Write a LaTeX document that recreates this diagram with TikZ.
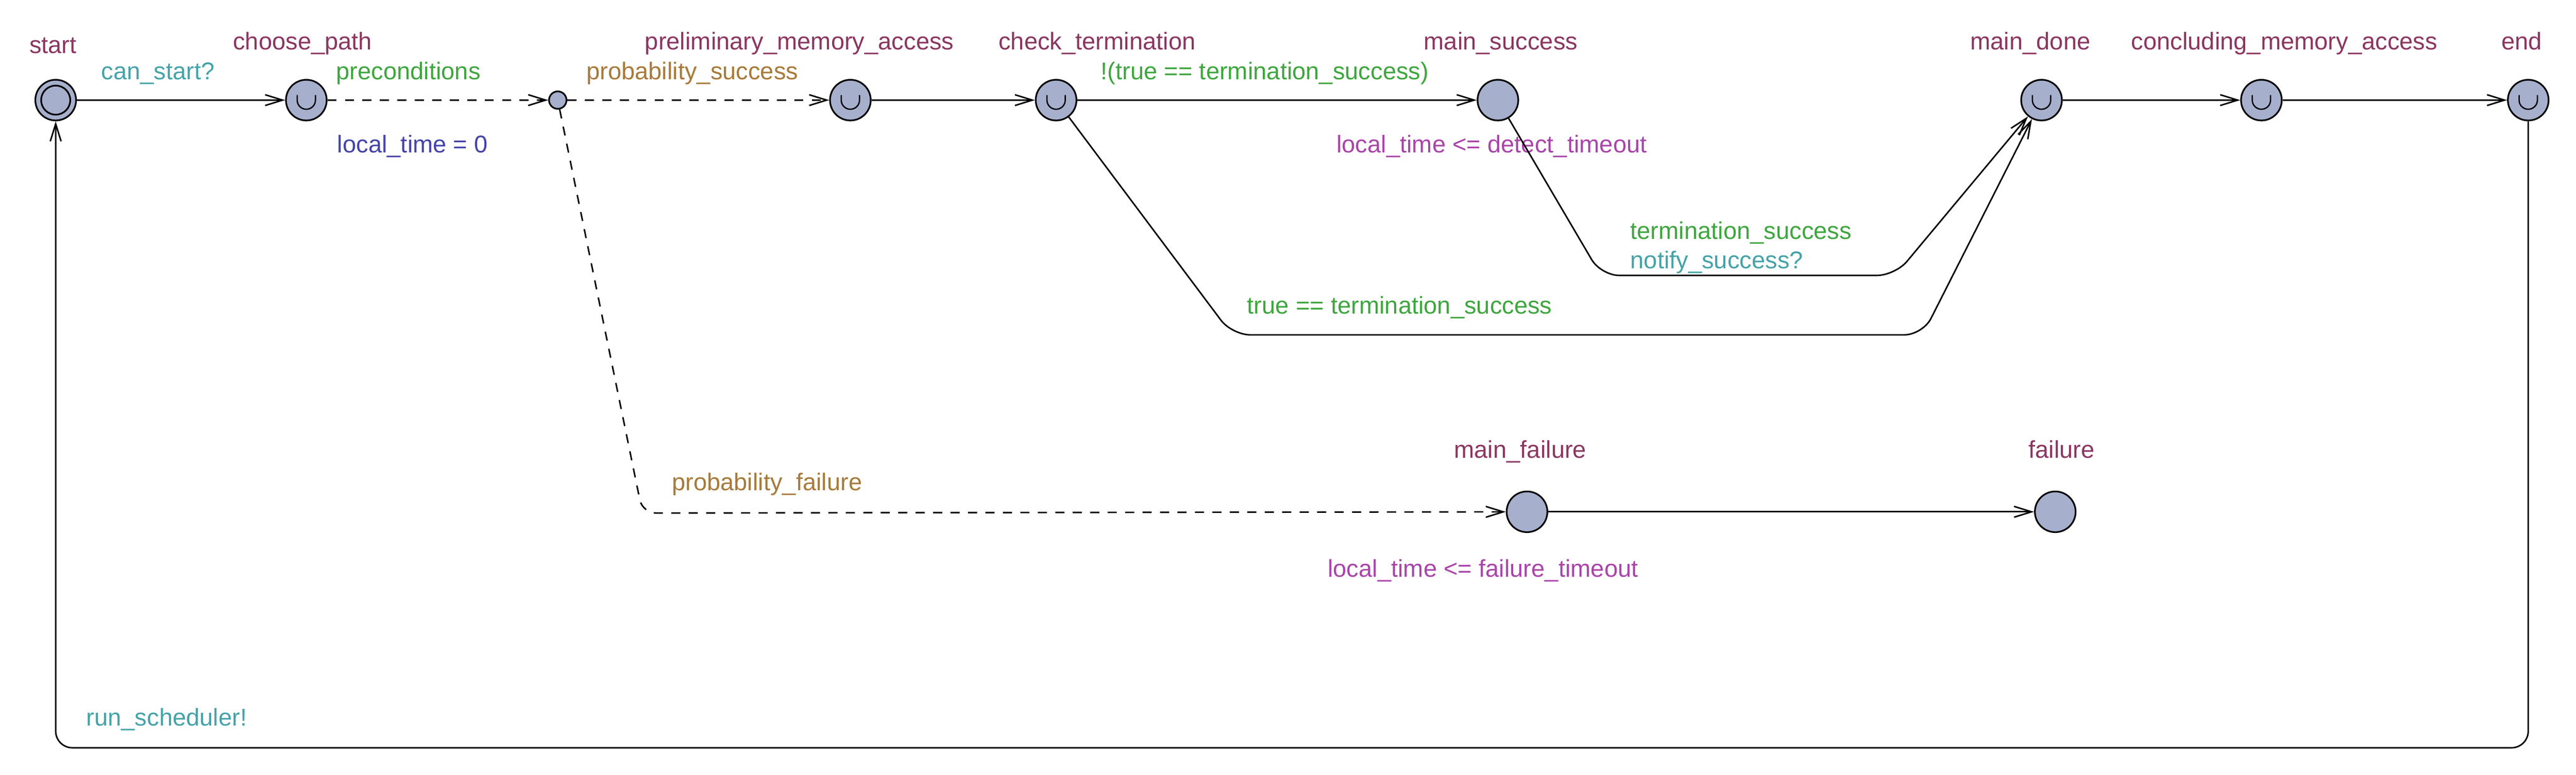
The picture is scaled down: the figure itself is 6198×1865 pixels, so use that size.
\documentclass[tikz,border=0pt]{standalone}
\usepackage{fontspec}
\setmainfont{Liberation Sans}
\usetikzlibrary{arrows.meta}
\definecolor{locfill}{RGB}{166,175,204}
\definecolor{cname}{RGB}{139,54,97}
\definecolor{csync}{RGB}{69,163,168}
\definecolor{cguard}{RGB}{62,166,62}
\definecolor{cprob}{RGB}{168,122,58}
\definecolor{cassign}{RGB}{68,68,170}
\definecolor{cinv}{RGB}{170,68,170}
\begin{document}
\begin{tikzpicture}[x=0.25pt,y=-0.25pt,
  loc/.style={circle, draw=black, line width=1pt, fill=locfill, minimum size=24.5pt, inner sep=0pt},
  cloc/.style={circle, draw=black, line width=1pt, fill=locfill, minimum size=10.5pt, inner sep=0pt},
  urgent/.style={path picture={\draw[line width=0.8pt] ([xshift=-5.5pt,yshift=3pt]path picture bounding box.center) -- ++(0,-3pt) arc[start angle=180,end angle=360,radius=5.5pt] -- ++(0,3pt);}},
  edge/.style={line width=0.9pt, -{Straight Barb[length=10.5pt,width=6.5pt,line width=0.9pt]}},
  dedge/.style={edge, dash pattern=on 5.5pt off 5pt},
  lbl/.style={anchor=base west, inner sep=0pt, font=\fontsize{14.6}{17}\selectfont},
  lname/.style={lbl, text=cname},
  lsync/.style={lbl, text=csync},
  lguard/.style={lbl, text=cguard},
  lprob/.style={lbl, text=cprob},
  lassign/.style={lbl, text=cassign},
  linv/.style={lbl, text=cinv}
]
\useasboundingbox (0,0) rectangle (6198,1865);
\fill[white] (0,0) rectangle (6198,1865);

% locations
\node[loc] (start) at (134,241) {};
\draw[line width=1pt] (start.center) circle[radius=8.75pt];
\node[loc,urgent] (choose) at (737,241) {};
\node[cloc] (branch) at (1342,241) {};
\node[loc,urgent] (prelim) at (2046,241) {};
\node[loc,urgent] (check) at (2541,241) {};
\node[loc] (msucc) at (3604,241) {};
\node[loc,urgent] (mdone) at (4912,241) {};
\node[loc,urgent] (concl) at (5441,241) {};
\node[loc,urgent] (endn) at (6083,241) {};
\node[loc] (mfail) at (3674,1232) {};
\node[loc] (fail) at (4945,1232) {};

% location names
\node[lname] (nstart) at (70,128) {start};
\node[lname] (nchoose) at (560,120) {choose\_path};
\node[lname] (nprelim) at (1551,120) {preliminary\_memory\_access};
\node[lname] (ncheck) at (2402,120) {check\_termination};
\node[lname] (nmsucc) at (3425,120) {main\_success};
\node[lname] (nmdone) at (4740,120) {main\_done};
\node[lname] (nconcl) at (5127,120) {concluding\_memory\_access};
\node[lname] (nend) at (6018,120) {end};
\node[lname] (nmfail) at (3498,1103) {main\_failure};
\node[lname] (nfail) at (4880,1103) {failure};

% invariants
\node[linv] (imsucc) at (3215,367) {local\_time <= detect\_timeout};
\node[linv] (imfail) at (3194,1389) {local\_time <= failure\_timeout};

% corner coordinates
\coordinate (c1) at (1546,1235);
\coordinate (c2) at (2964,806);
\coordinate (c3) at (4626,806);
\coordinate (c4) at (3852,663);
\coordinate (c5) at (4560,663);
\coordinate (c6) at (6083,1800);
\coordinate (c7) at (134,1800);

% edges
\draw[edge] (start) -- (choose);
\draw[dedge] (choose) -- (branch);
\draw[dedge] (branch) -- (prelim);
\draw[dedge, rounded corners=8pt] (branch) -- (c1) -- (mfail);
\draw[edge] (prelim) -- (check);
\draw[edge] (check) -- (msucc);
\draw[edge, rounded corners=11pt] (check) -- (c2) -- (c3) -- (mdone);
\draw[edge, rounded corners=11pt] (msucc) -- (c4) -- (c5) -- (mdone);
\draw[edge] (mdone) -- (concl);
\draw[edge] (concl) -- (endn);
\draw[edge, rounded corners=10pt] (endn) -- (c6) -- (c7) -- (start);
\draw[edge] (mfail) -- (fail);

% edge labels
\node[lsync] (e1) at (243,192) {can\_start?};
\node[lguard] (e2) at (808,192) {preconditions};
\node[lassign] (e3) at (811,367) {local\_time = 0};
\node[lprob] (e4) at (1410,192) {probability\_success};
\node[lguard] (e5) at (2648,192) {!(true == termination\_success)};
\node[lguard] (e6) at (3922,576) {termination\_success};
\node[lsync] (e7) at (3922,647) {notify\_success?};
\node[lguard] (e8) at (3000,756) {true == termination\_success};
\node[lprob] (e9) at (1616,1181) {probability\_failure};
\node[lsync] (e10) at (207,1747) {run\_scheduler!};
\end{tikzpicture}
\end{document}
